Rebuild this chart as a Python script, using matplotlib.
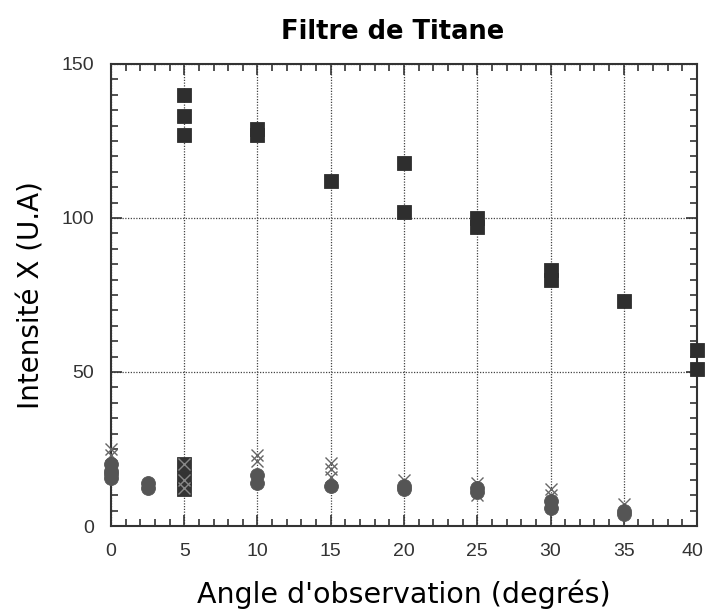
import matplotlib
matplotlib.use("Agg")
import matplotlib.pyplot as plt
import matplotlib.transforms as mtransforms
from matplotlib.ticker import MultipleLocator

# Titanium filter: X-ray intensity vs observation angle
sq_x = [5, 5, 5, 10, 10, 15, 20, 20, 25, 25, 30, 30, 35, 40, 40]
sq_y = [140, 133, 127, 129, 127, 112, 118, 102, 100, 97, 83, 80, 73, 57, 51]

low_sq_x = [5, 5, 5]
low_sq_y = [20, 15.5, 12]

circ_x = [0, 0, 0, 0, 2.5, 2.5, 10, 10, 15, 20, 20, 25, 25, 30, 30, 35, 35]
circ_y = [20, 18, 17, 15.5, 14, 12.5, 16.5, 14, 13, 13, 12, 12.5, 11, 8, 6, 5, 4]

cross_x = [0, 0, 5, 5, 5, 10, 10, 15, 15, 15, 20, 25, 25, 30, 30, 35]
cross_y = [25, 23, 20, 15, 12.5, 23, 21, 20.5, 18.5, 16, 15, 14, 10, 12, 10, 7]

x_ticks = [0, 5, 10, 15, 20, 25, 30, 35, 40]
y_ticks = [0, 50, 100, 150]

fam = ['Liberation Sans', 'DejaVu Sans']

fig = plt.figure(figsize=(7.06, 6.10), dpi=100)
ax = fig.add_axes([0.1572, 0.1377, 0.8301, 0.7574])

ax.set_xlim(0, 40)
ax.set_ylim(0, 150)
ax.set_xticks(x_ticks)
ax.set_yticks(y_ticks)
ax.xaxis.set_minor_locator(MultipleLocator(1))
ax.yaxis.set_minor_locator(MultipleLocator(5))

ax.grid(True, which='major', linestyle=(0, (1, 1.2)), color='#444444', linewidth=0.9)
ax.set_axisbelow(True)

ax.tick_params(which='both', direction='in', top=True, right=True,
               colors='#333333', width=1.2)
ax.tick_params(which='major', length=8, pad=12, labelsize=14)
ax.tick_params(which='minor', length=5)
for lab in ax.get_xticklabels() + ax.get_yticklabels():
    lab.set_family(fam)
    lab.set_color('#333333')
# keep the last x tick label inside the figure
last = ax.get_xticklabels()[-1]
last.set_transform(last.get_transform() +
                   mtransforms.ScaledTranslation(-5 / 100, 0, fig.dpi_scale_trans))
for s in ax.spines.values():
    s.set_color('#333333')
    s.set_linewidth(1.5)

ax.plot(cross_x, cross_y, linestyle='none', marker='x', markersize=9,
        markeredgewidth=1.0, color='#666666', clip_on=False, zorder=3)
ax.plot(circ_x, circ_y, linestyle='none', marker='o', markersize=10,
        color='#555555', markeredgecolor='#555555', markeredgewidth=0.6,
        clip_on=False, zorder=4)
ax.plot(low_sq_x, low_sq_y, linestyle='none', marker='s', markersize=10,
        color='#333333', markeredgecolor='#333333', markeredgewidth=0.6,
        clip_on=False, zorder=4)
ax.plot([5, 5, 5], [20, 15, 12.5], linestyle='none', marker='x', markersize=9,
        markeredgewidth=1.0, color='#888888', clip_on=False, zorder=5)
ax.plot(sq_x, sq_y, linestyle='none', marker='s', markersize=10.5,
        color='#2e2e2e', markeredgecolor='#2e2e2e', markeredgewidth=0.6,
        clip_on=False, zorder=4)

ax.set_title('Filtre de Titane', fontsize=18.5, fontweight='bold',
             family='DejaVu Sans', pad=18, x=0.48)
ax.set_xlabel("Angle d'observation (degrés)", fontsize=20.5,
              family='DejaVu Sans', labelpad=14)
ax.set_ylabel('Intensité X (U.A)', fontsize=20,
              family='DejaVu Sans', labelpad=12)

fig.savefig('out.png', dpi=100)
